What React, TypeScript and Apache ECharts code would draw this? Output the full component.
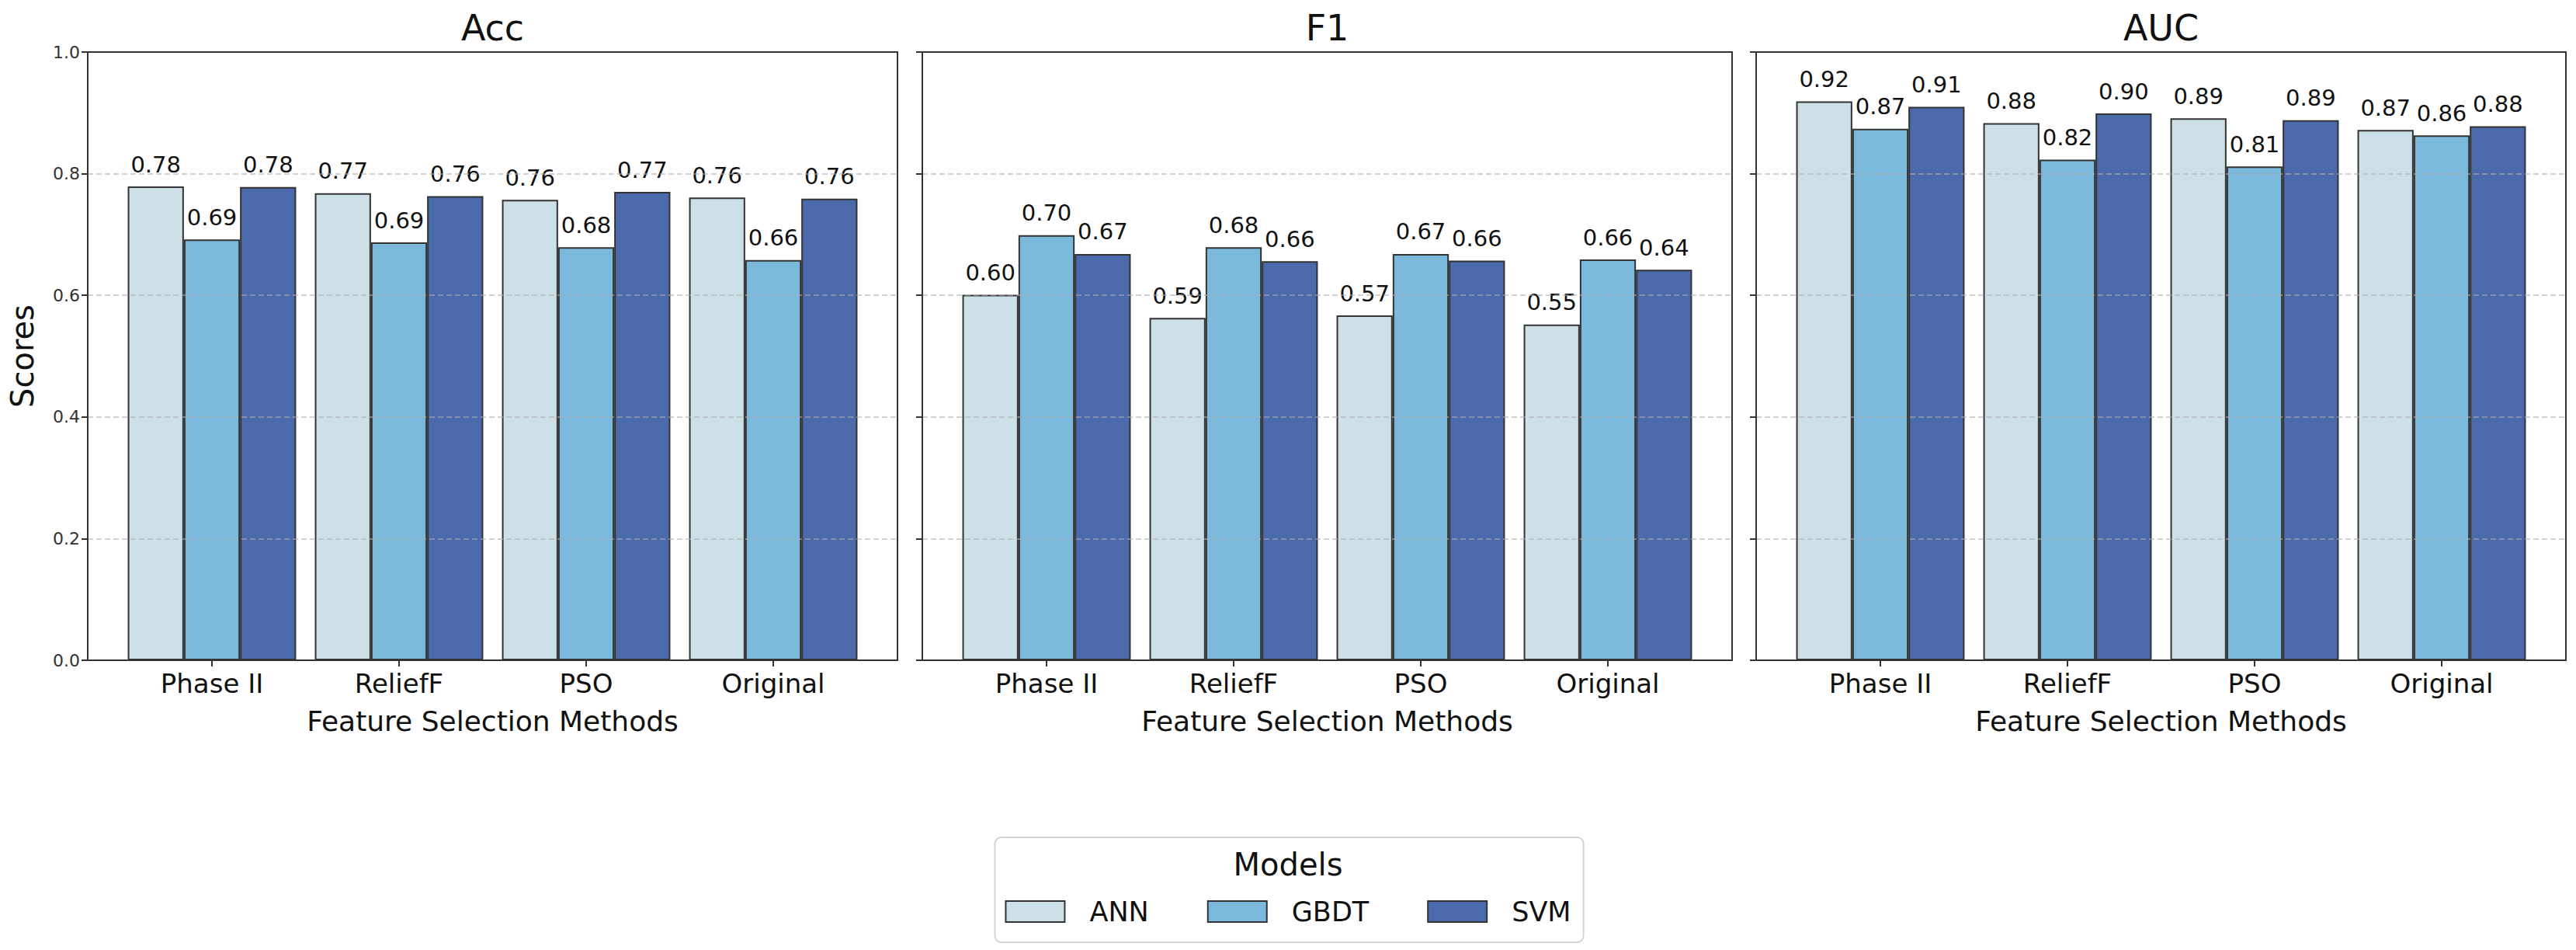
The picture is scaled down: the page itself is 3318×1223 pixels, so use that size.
import React, { useEffect, useRef } from "react";
import * as echarts from "echarts";

const methods = ["Phase II", "ReliefF", "PSO", "Original"];
const models = ["ANN", "GBDT", "SVM"];
const metrics = ["Acc", "F1", "AUC"];
const yTicks = [0, 0.2, 0.4, 0.6, 0.8, 1.0];

const accANN = [0.779, 0.768, 0.757, 0.761];
const accGBDT = [0.692, 0.687, 0.679, 0.658];
const accSVM = [0.778, 0.763, 0.770, 0.759];

const f1ANN = [0.601, 0.563, 0.567, 0.552];
const f1GBDT = [0.699, 0.679, 0.668, 0.659];
const f1SVM = [0.668, 0.656, 0.657, 0.642];

const aucANN = [0.919, 0.883, 0.891, 0.872];
const aucGBDT = [0.874, 0.823, 0.812, 0.863];
const aucSVM = [0.910, 0.899, 0.888, 0.878];

// printed labels where the picture's text differs from the bar height
const f1ANNLabels = ["0.60", "0.59", "0.57", "0.55"];

const seriesValues = [
  [accANN, accGBDT, accSVM],
  [f1ANN, f1GBDT, f1SVM],
  [aucANN, aucGBDT, aucSVM],
];
const seriesLabels: (string[] | null)[][] = [
  [null, null, null],
  [f1ANNLabels, null, null],
  [null, null, null],
];

const COLORS = ["#cde0e7", "#7ab8dc", "#4b6aac"];
const FONT = "DejaVu Sans";

export default function App() {
  const ref = useRef<HTMLDivElement>(null);
  useEffect(() => {
    document.body.style.margin = "0";
    if (!ref.current) return;
    const chart = echarts.init(ref.current, undefined, { renderer: "svg" });

    const PANEL_LEFT = [113, 1188, 2262];
    const PANEL_W = 1043;
    const INNER_W = 964;
    const TOP = 67;
    const H = 783;

    const grid: any[] = [];
    const xAxis: any[] = [];
    const yAxis: any[] = [];
    const series: any[] = [];
    const graphic: any[] = [];

    metrics.forEach((metric, i) => {
      const left = PANEL_LEFT[i];
      grid.push({
        left,
        top: TOP,
        width: PANEL_W,
        height: H,
        show: true,
        borderColor: "#333",
        borderWidth: 2,
        backgroundColor: "transparent",
        z: 4,
      });
      grid.push({
        left: left + (PANEL_W - INNER_W) / 2,
        top: TOP,
        width: INNER_W,
        height: H,
      });
      xAxis.push({
        gridIndex: 2 * i,
        type: "value",
        min: 0,
        max: 1,
        show: false,
      });
      xAxis.push({
        gridIndex: 2 * i + 1,
        type: "category",
        data: methods,
        axisLine: { show: false },
        axisTick: {
          show: true,
          alignWithLabel: true,
          length: 8,
          lineStyle: { color: "#333", width: 2 },
        },
        axisLabel: { fontSize: 34, color: "#111", margin: 13, fontFamily: FONT },
        name: "Feature Selection Methods",
        nameLocation: "middle",
        nameGap: 60,
        nameTextStyle: { fontSize: 36, color: "#111", fontFamily: FONT },
      });
      yAxis.push({
        gridIndex: 2 * i,
        type: "value",
        min: 0,
        max: 1,
        interval: 0.2,
        z: 3,
        axisLine: { show: false },
        axisTick: { show: true, length: 8, lineStyle: { color: "#333", width: 2 } },
        axisLabel: {
          show: i === 0,
          fontSize: 22,
          color: "#333",
          margin: 10,
          fontFamily: FONT,
          formatter: (v: number) => {
            const t = yTicks.find((y) => Math.abs(y - v) < 1e-6);
            return (t ?? v).toFixed(1);
          },
        },
        splitLine: {
          show: true,
          lineStyle: { type: [7, 4], color: "rgba(175,175,175,0.75)", width: 1.5 },
        },
        name: i === 0 ? "Scores" : "",
        nameLocation: "middle",
        nameGap: 64,
        nameTextStyle: { fontSize: 40, color: "#111", fontFamily: FONT },
      });
      yAxis.push({
        gridIndex: 2 * i + 1,
        type: "value",
        min: 0,
        max: 1,
        show: false,
      });

      models.forEach((model, m) => {
        const vals = seriesValues[i][m];
        const labs = seriesLabels[i][m];
        series.push({
          type: "bar",
          name: model,
          xAxisIndex: 2 * i + 1,
          yAxisIndex: 2 * i + 1,
          data: vals,
          barWidth: "30%",
          barGap: "0%",
          itemStyle: { color: COLORS[m], borderColor: "#333", borderWidth: 2 },
          label: {
            show: true,
            position: "top",
            distance: 14,
            fontSize: 29,
            color: "#111",
            fontFamily: FONT,
            formatter: (p: any) => (labs ? labs[p.dataIndex] : vals[p.dataIndex].toFixed(2)),
          },
        });
      });

      graphic.push({
        type: "text",
        x: left + PANEL_W / 2,
        y: 36,
        z: 100,
        style: {
          text: metric,
          fontSize: 46,
          fontFamily: FONT,
          fill: "#111",
          align: "center",
          verticalAlign: "middle",
          textAlign: "center",
          textVerticalAlign: "middle",
        },
      });
    });

    graphic.push({
      type: "text",
      x: 1659,
      y: 1113,
      z: 100,
      style: {
        text: "Models",
        fontSize: 40,
        fontFamily: FONT,
        fill: "#111",
        align: "center",
        verticalAlign: "middle",
        textAlign: "center",
        textVerticalAlign: "middle",
      },
    });

    chart.setOption({
      animation: false,
      backgroundColor: "#fff",
      textStyle: { fontFamily: FONT },
      grid,
      xAxis,
      yAxis,
      series,
      graphic,
      legend: {
        data: models,
        top: 1078,
        left: "center",
        orient: "horizontal",
        icon: "rect",
        itemWidth: 76,
        itemHeight: 27,
        itemGap: 75,
        padding: [78, 16, 22, 13],
        borderColor: "#d3d3d3",
        borderWidth: 2,
        borderRadius: 8,
        backgroundColor: "#fff",
        textStyle: { fontSize: 35, color: "#111", fontFamily: FONT, padding: [0, 0, 0, 27] },
      },
    });
    return () => chart.dispose();
  }, []);
  return <div ref={ref} style={{ width: 3318, height: 1223 }} />;
}
